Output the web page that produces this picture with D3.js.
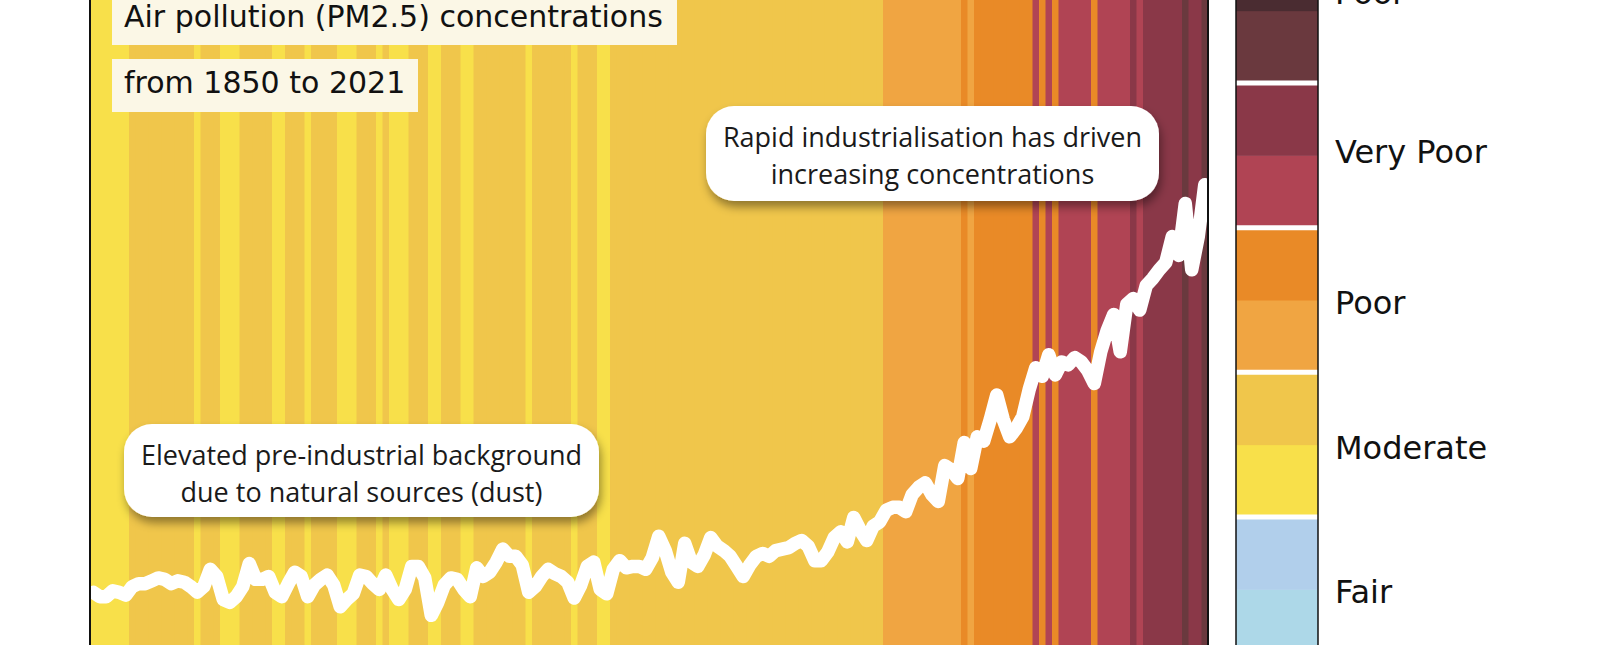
<!DOCTYPE html>
<html>
<head>
<meta charset="utf-8">
<script src="https://cdn.jsdelivr.net/npm/d3@7"></script>
<style>
body { margin: 0; background: #ffffff; }
svg { display: block; }
.title-text { font-family: 'DejaVu Sans', sans-serif; font-size: 30px; fill: #111111; }
.legend-label { font-family: 'DejaVu Sans', sans-serif; font-size: 32px; fill: #111111; }
.note-text { font-family: 'Open Sans', sans-serif; font-size: 27px; fill: #1a1a1a; }
</style>
</head>
<body>
<svg id="canvas" width="1620" height="645">
  <defs>
    <filter id="note-shadow" x="-20%" y="-30%" width="140%" height="170%">
      <feDropShadow dx="2" dy="6" stdDeviation="5" flood-color="#000000" flood-opacity="0.4"></feDropShadow>
    </filter>
  </defs>
  <g id="stripes"></g>
  <g id="line"></g>
  <g id="frame"></g>
  <g id="titles"></g>
  <g id="notes"></g>
  <g id="legend"></g>
</svg>
<script>
// yearly PM2.5 (ug/m3), 1850-2021
var years = d3.range(1850, 2022);
var pm25 = [
  19.7, 19.4, 19.4, 19.8, 19.7, 19.5, 20.1, 20.3, 20.3, 20.5,
  20.7, 20.6, 20.3, 20.5, 20.4, 20.1, 19.7, 20.1, 21.3, 20.8,
  19.2, 19.0, 19.4, 20.1, 21.7, 20.6, 20.6, 20.8, 19.7, 19.4,
  20.3, 21.1, 20.8, 19.4, 20.2, 20.6, 20.9, 20.2, 18.7, 19.2,
  19.6, 20.9, 20.8, 20.3, 19.9, 20.9, 19.9, 19.2, 19.9, 21.5,
  21.5, 20.7, 18.1, 19.0, 20.2, 20.7, 20.6, 19.9, 19.4, 21.4,
  20.8, 21.1, 21.8, 22.7, 22.2, 22.2, 21.6, 19.7, 20.1, 20.8,
  21.3, 21.0, 20.8, 20.4, 19.3, 20.2, 21.5, 21.8, 19.9, 19.6,
  21.3, 21.9, 21.4, 21.5, 21.5, 21.3, 22.1, 23.6, 22.6, 21.1,
  20.4, 23.1, 21.8, 21.5, 22.3, 23.5, 22.9, 22.6, 22.2, 21.5,
  20.8, 21.6, 22.2, 22.4, 22.2, 22.6, 22.7, 22.8, 23.1, 23.3,
  22.9, 21.9, 21.9, 22.5, 23.5, 23.9, 23.2, 24.9, 24.0, 23.3,
  24.3, 24.6, 25.4, 25.6, 25.6, 25.3, 26.5, 27.0, 27.3, 26.5,
  26.0, 28.5, 28.2, 27.6, 30.1, 28.3, 30.5, 30.2, 31.7, 33.4,
  31.7, 30.5, 31.1, 31.9, 33.8, 35.3, 34.7, 36.2, 34.8, 35.7,
  35.5, 36.0, 35.7, 35.1, 34.2, 36.4, 37.9, 39.0, 36.4, 39.7,
  40.1, 39.3, 41.0, 41.5, 42.1, 42.6, 44.4, 43.1, 46.7, 42.1,
  44.4, 48.0
];

// colour bins (upper edges) and their colours, two shades per category
var level_breaks = [10, 15, 20, 25, 30, 35, 40, 45, 50];
var level_colors = ['#add8e8', '#b1cfeb', '#f8e04a', '#f0c64b', '#f0a542',
                    '#e98a27', '#b04454', '#8a3848', '#6a393e', '#4a2c31'];

var categories = ['Fair', 'Moderate', 'Poor', 'Very Poor', 'Extremely Poor'];
var category_bounds = [5, 15, 25, 35, 45, 55];

var title_lines = ['Air pollution (PM2.5) concentrations', 'from 1850 to 2021'];
var note_pre = ['Elevated pre-industrial background', 'due to natural sources (dust)'];
var note_post = ['Rapid industrialisation has driven', 'increasing concentrations'];

draw_chart();

function draw_chart(){
    var plot = {left: 90, right: 1208, top: -10, bottom: 655};
    var canvas = d3.select('#canvas');

    var x_scale = d3.scaleBand()
        .domain(years)
        .range([plot.left, plot.right])
        .padding(0);
    var y_scale = d3.scaleLinear()
        .domain([15, 50])
        .range([660, 156]);
    var color_scale = d3.scaleThreshold()
        .domain(level_breaks)
        .range(level_colors);

    draw_stripes(canvas.select('#stripes'), x_scale, color_scale, plot);
    draw_line(canvas.select('#line'), x_scale, y_scale);
    draw_frame(canvas.select('#frame'), plot);
    draw_titles(canvas.select('#titles'));
    draw_note(canvas.select('#notes'), note_pre, {x: 124, y: 424, w: 475, h: 93});
    draw_note(canvas.select('#notes'), note_post, {x: 706, y: 106, w: 453, h: 95});
    draw_legend(canvas.select('#legend'));
}

function draw_stripes(g, x_scale, color_scale, plot){
    g.selectAll('.stripe')
        .data(years)
        .enter()
        .append('rect')
        .attr('class', 'stripe')
        .attr('x', function(d){ return x_scale(d); })
        .attr('y', plot.top)
        .attr('width', x_scale.bandwidth() + 0.6)
        .attr('height', plot.bottom - plot.top)
        .attr('fill', function(d, i){ return color_scale(pm25[i]); });
}

function draw_line(g, x_scale, y_scale){
    var half = x_scale.bandwidth() / 2;
    var line = d3.line()
        .x(function(d, i){ return x_scale(years[i]) + half; })
        .y(function(d){ return y_scale(d); });

    g.append('path')
        .datum(pm25)
        .attr('d', line)
        .attr('fill', 'none')
        .attr('stroke', '#ffffff')
        .attr('stroke-width', 13.5)
        .attr('stroke-linejoin', 'round')
        .attr('stroke-linecap', 'round');
}

function draw_frame(g, plot){
    g.append('rect')
        .attr('x', plot.left)
        .attr('y', plot.top)
        .attr('width', plot.right - plot.left)
        .attr('height', plot.bottom - plot.top)
        .attr('fill', 'none')
        .attr('stroke', '#111111')
        .attr('stroke-width', 2);
}

function draw_titles(g){
    var boxes = [{x: 112, y: -10, w: 565, h: 55, base: 27},
                 {x: 112, y: 59, w: 306, h: 53, base: 93}];
    boxes.forEach(function(b, i){
        g.append('rect')
            .attr('x', b.x).attr('y', b.y)
            .attr('width', b.w).attr('height', b.h)
            .attr('fill', '#fbf7e6');
        g.append('text')
            .attr('class', 'title-text')
            .attr('x', b.x + 12)
            .attr('y', b.base)
            .text(title_lines[i]);
    });
}

function draw_note(g, lines, box){
    g.append('rect')
        .attr('x', box.x).attr('y', box.y)
        .attr('width', box.w).attr('height', box.h)
        .attr('rx', 28).attr('ry', 28)
        .attr('fill', '#ffffff')
        .attr('filter', 'url(#note-shadow)');
    var text = g.append('text')
        .attr('class', 'note-text')
        .attr('text-anchor', 'middle');
    lines.forEach(function(l, i){
        text.append('tspan')
            .attr('x', box.x + box.w / 2)
            .attr('y', box.y + 41 + i * 37)
            .text(l);
    });
}

function draw_legend(g){
    var bar = {left: 1236, right: 1318};
    var legend_scale = d3.scaleLinear()
        .domain([15, 45])
        .range([517, 83]);

    var edges = [category_bounds[0]].concat(level_breaks, [category_bounds[category_bounds.length - 1]]);
    var blocks = d3.pairs(edges).map(function(p, i){
        return {lo: p[0], hi: p[1], color: level_colors[i]};
    });

    g.selectAll('.block')
        .data(blocks)
        .enter()
        .append('rect')
        .attr('class', 'block')
        .attr('x', bar.left)
        .attr('y', function(d){ return legend_scale(d.hi); })
        .attr('width', bar.right - bar.left)
        .attr('height', function(d){ return legend_scale(d.lo) - legend_scale(d.hi) + 0.5; })
        .attr('fill', function(d){ return d.color; });

    // white gaps between categories
    g.selectAll('.gap')
        .data(category_bounds.slice(1))
        .enter()
        .append('line')
        .attr('class', 'gap')
        .attr('x1', bar.left).attr('x2', bar.right)
        .attr('y1', function(d){ return legend_scale(d); })
        .attr('y2', function(d){ return legend_scale(d); })
        .attr('stroke', '#ffffff')
        .attr('stroke-width', 5);

    [bar.left, bar.right].forEach(function(x){
        g.append('line')
            .attr('x1', x).attr('x2', x)
            .attr('y1', legend_scale(category_bounds[category_bounds.length - 1]))
            .attr('y2', legend_scale(category_bounds[0]))
            .attr('stroke', '#111111')
            .attr('stroke-width', 1.5);
    });

    categories.forEach(function(c, i){
        var mid = legend_scale((category_bounds[i] + category_bounds[i + 1]) / 2);
        var words = c == 'Extremely Poor' ? ['Extremely', 'Poor'] : [c];
        var text = g.append('text')
            .attr('class', 'legend-label')
            .attr('dominant-baseline', 'central');
        words.forEach(function(w, j){
            text.append('tspan')
                .attr('x', 1335)
                .attr('y', mid - 18 - (words.length - 1 - j) * 37)
                .text(w);
        });
        if(words.length == 1){
            text.select('tspan').attr('y', c == 'Very Poor' ? mid - 3 : mid + 3);
        }
    });
}
</script>
</body>
</html>
